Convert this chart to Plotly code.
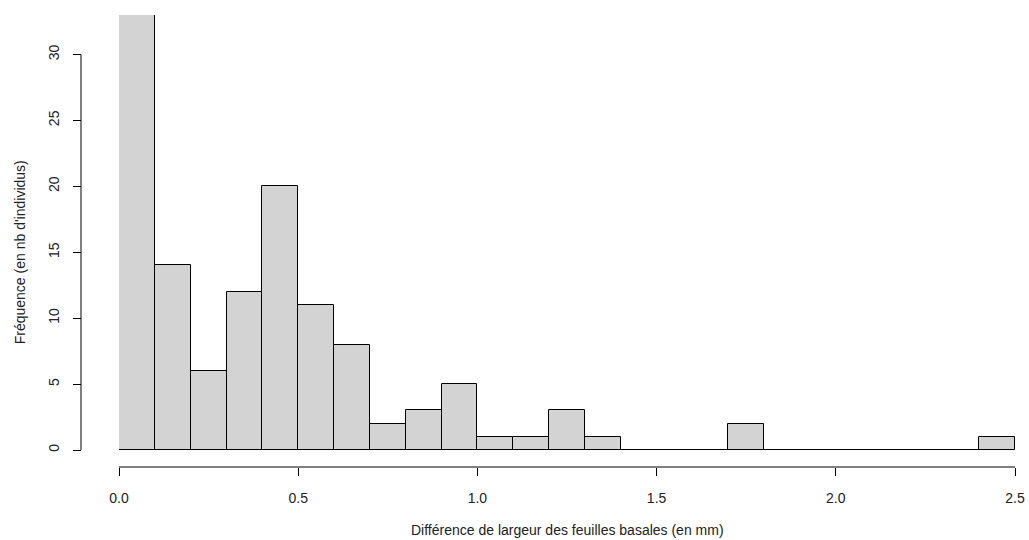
import plotly.graph_objects as go

bin_edges = [round(i * 0.1, 1) for i in range(26)]
counts = [33, 14, 6, 12, 20, 11, 8, 2, 3, 5, 1, 1, 3, 1, 0, 0, 0, 2, 0, 0, 0, 0, 0, 0, 1]
x_ticks = [0.0, 0.5, 1.0, 1.5, 2.0, 2.5]
x_tick_labels = ["0.0", "0.5", "1.0", "1.5", "2.0", "2.5"]
y_ticks = [0, 5, 10, 15, 20, 25, 30]
x_title = "Différence de largeur des feuilles basales (en mm)"
y_title = "Fréquence (en nb d'individus)"

centers = [(a + b) / 2 for a, b in zip(bin_edges[:-1], bin_edges[1:])]
widths = [b - a for a, b in zip(bin_edges[:-1], bin_edges[1:])]

W, H = 1029, 540
ml, mr, mt, mb = 81, 14, 15, 73
pw = W - ml - mr
ph = H - mt - mb
dx = (119 - ml) / pw
dy = (467 - 450) / ph

FONT = "Liberation Sans, Arial, sans-serif"
TXT = "#222222"
FS = 14

fig = go.Figure()
fig.add_trace(go.Bar(
    x=centers, y=counts, width=widths,
    marker=dict(color="#D3D3D3", line=dict(color="#000000", width=1)),
    hoverinfo="x+y", showlegend=False,
))
fig.add_trace(go.Scatter(
    x=[bin_edges[0], bin_edges[-1]], y=[0, 0], mode="lines",
    line=dict(color="#000000", width=1), hoverinfo="skip", showlegend=False,
))

fig.update_layout(
    width=W, height=H,
    margin=dict(l=ml, r=mr, t=mt, b=mb, autoexpand=False),
    plot_bgcolor="white", paper_bgcolor="white",
    font=dict(family=FONT, size=FS, color=TXT),
    bargap=0,
    xaxis=dict(
        domain=[dx, 1], range=[bin_edges[0], bin_edges[-1]],
        anchor="free", position=0, automargin=False,
        showgrid=False, zeroline=False, showline=False,
        tickmode="array", tickvals=x_ticks, ticktext=x_tick_labels,
        ticks="outside", ticklen=8, tickwidth=1, tickcolor="#000000",
        ticklabelstandoff=10,
        tickfont=dict(size=FS, color=TXT),
    ),
    yaxis=dict(
        domain=[dy, 1], range=[0, max(counts)],
        anchor="free", position=0, automargin=False,
        showgrid=False, zeroline=False, showline=False,
        tickmode="array", tickvals=y_ticks,
        ticks="outside", ticklen=8, tickwidth=1, tickcolor="#000000",
        tickangle=-90, ticklabelstandoff=8,
        tickfont=dict(size=FS, color=TXT),
    ),
    shapes=[
        dict(type="line", xref="x", yref="paper", x0=x_ticks[0], x1=x_ticks[-1],
             y0=0, y1=0, line=dict(color="#000000", width=1)),
        dict(type="line", xref="paper", yref="y", x0=0, x1=0,
             y0=y_ticks[0], y1=y_ticks[-1], line=dict(color="#000000", width=1)),
    ],
    annotations=[
        dict(text=x_title, xref="x", yref="paper", x=(x_ticks[0] + x_ticks[-1]) / 2,
             y=-(530 - 467) / ph, showarrow=False, yanchor="middle",
             font=dict(size=FS, color=TXT)),
        dict(text=y_title, xref="paper", yref="y", x=-(ml - 20) / pw,
             y=(y_ticks[0] + y_ticks[-1]) / 2, showarrow=False, textangle=-90,
             xanchor="center", font=dict(size=FS, color=TXT)),
    ],
)

fig.write_html("out.html", config={"displayModeBar": False},
               post_script="document.body.style.margin='0';")
